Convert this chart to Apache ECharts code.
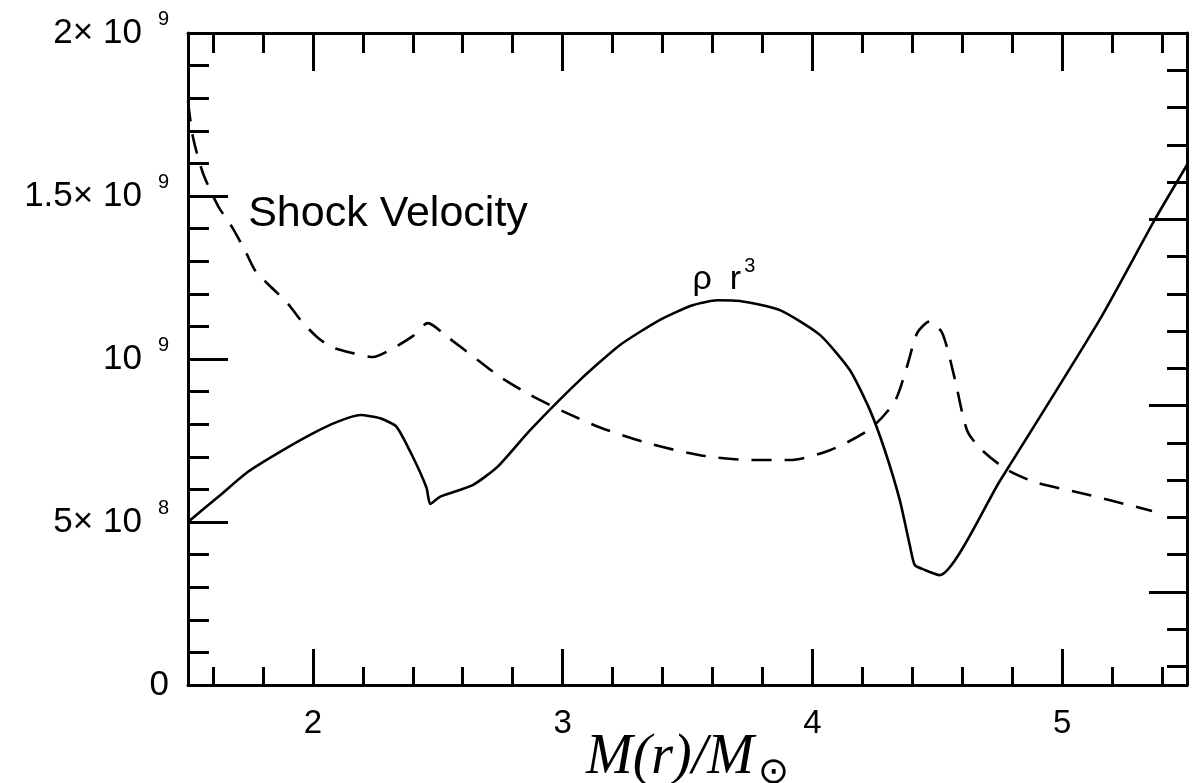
<!DOCTYPE html>
<html>
<head>
<meta charset="utf-8">
<script src="https://cdn.jsdelivr.net/npm/echarts@6/dist/echarts.min.js"></script>
<style>
  html, body { margin: 0; padding: 0; background: #fff; }
  #chart { width: 1204px; height: 783px; }
</style>
</head>
<body>
<div id="chart"></div>
<script>
// Shock velocity (cm/s) against enclosed mass M(r)/M_sun
const shockMass = [1.50, 1.52, 1.56, 1.62, 1.68, 1.73, 1.77, 1.82, 1.90, 1.95, 2.02, 2.08, 2.16, 2.24,
  2.31, 2.40, 2.46, 2.54, 2.66, 2.75, 2.87, 3.00, 3.15, 3.35, 3.55, 3.75, 3.91, 4.07, 4.23, 4.33,
  4.38, 4.42, 4.47, 4.52, 4.57, 4.62, 4.68, 4.78, 4.90, 5.07, 5.20, 5.36];
const shockVelocity = [1.79e9, 1.68e9, 1.57e9, 1.47e9, 1.40e9, 1.33e9, 1.27e9, 1.23e9, 1.17e9, 1.12e9,
  1.065e9, 1.035e9, 1.018e9, 1.006e9, 1.028e9, 1.07e9, 1.11e9, 1.067e9, 0.997e9, 0.945e9, 0.89e9,
  0.84e9, 0.79e9, 0.74e9, 0.705e9, 0.69e9, 0.69e9, 0.72e9, 0.785e9, 0.87e9, 0.98e9, 1.08e9, 1.115e9,
  1.08e9, 0.94e9, 0.78e9, 0.72e9, 0.66e9, 0.62e9, 0.59e9, 0.565e9, 0.534e9];

// rho r^3 profile on the same mass coordinate
const rhoMass = [1.50, 1.63, 1.74, 1.87, 2.00, 2.10, 2.19, 2.27, 2.335, 2.40, 2.455, 2.47, 2.51, 2.64,
  2.74, 2.87, 3.07, 3.23, 3.39, 3.52, 3.62, 3.71, 3.87, 4.03, 4.15, 4.23, 4.29, 4.35, 4.39, 4.41,
  4.45, 4.51, 4.75, 5.15, 5.37, 5.50];
const rhoR3 = [5.0e8, 5.83e8, 6.54e8, 7.16e8, 7.72e8, 8.08e8, 8.28e8, 8.18e8, 7.92e8, 7.0e8, 6.05e8,
  5.55e8, 5.78e8, 6.13e8, 6.70e8, 7.82e8, 9.36e8, 10.43e8, 11.2e8, 11.65e8, 11.8e8, 11.78e8, 11.5e8,
  10.74e8, 9.66e8, 8.44e8, 7.2e8, 5.67e8, 4.29e8, 3.68e8, 3.53e8, 3.37e8, 6.25e8, 11.2e8, 14.26e8, 15.95e8];

// axis ticks
const xMajorTicks = [2, 3, 4, 5];
const xMinorTicks = [1.6, 1.8, 2.2, 2.4, 2.6, 2.8, 3.2, 3.4, 3.6, 3.8, 4.2, 4.4, 4.6, 4.8, 5.2, 5.4];
const yTickValues = [0, 5e8, 1e9, 1.5e9, 2e9];
const yTickMantissa = ['0', '5\u00d7 10', '10', '1.5\u00d7 10', '2\u00d7 10'];
const yTickExponent = ['', '8', '9', '9', '9'];
const rightMajorTicks = [1, 2, 3];
const rightMinorTicks = [0.6, 0.8, 1.2, 1.4, 1.6, 1.8, 2.2, 2.4, 2.6, 2.8, 3.2, 3.4, 3.6, 3.8];

const FONT = '"Liberation Sans", Arial, Helvetica, sans-serif';
const INK = '#000';

const pairs = (xs, ys) => xs.map((x, i) => [x, ys[i]]);

const frameLine = { show: true, onZero: false, lineStyle: { color: INK, width: 3 } };
const noLine = { show: false };
const tick = (values, len) => ({
  show: true, inside: true, length: len, customValues: values,
  lineStyle: { color: INK, width: 3 }
});

const chart = echarts.init(document.getElementById('chart'), null, { renderer: 'canvas' });

const option = {
  animation: false,
  backgroundColor: '#fff',
  grid: { left: 188, right: 17, top: 33, bottom: 98, containLabel: false, outerBoundsMode: 'none' },
  xAxis: [
    {
      type: 'value', position: 'bottom', min: 1.5, max: 5.5,
      axisLine: frameLine, axisTick: tick(xMajorTicks, 36), splitLine: { show: false },
      axisLabel: {
        customValues: xMajorTicks, margin: 22, color: INK,
        fontFamily: FONT, fontSize: 33
      },
      name: '{i|M(r)/M}{o|\u2299}',
      nameLocation: 'middle', nameGap: 40, nameMoveOverlap: false,
      nameTextStyle: {
        rich: {
          i: { fontFamily: '"Liberation Serif", "DejaVu Serif", serif', fontStyle: 'italic', fontSize: 56, color: INK },
          o: { fontFamily: '"DejaVu Sans", sans-serif', fontSize: 37, color: INK, padding: [30, 0, 0, 4] }
        }
      }
    },
    {
      type: 'value', position: 'bottom', min: 1.5, max: 5.5,
      axisLine: noLine, axisTick: tick(xMinorTicks, 18), axisLabel: { show: false }, splitLine: { show: false }
    },
    {
      type: 'value', position: 'top', min: 1.5, max: 5.5,
      axisLine: frameLine, axisTick: tick(xMajorTicks, 38), axisLabel: { show: false }, splitLine: { show: false }
    },
    {
      type: 'value', position: 'top', min: 1.5, max: 5.5,
      axisLine: noLine, axisTick: tick(xMinorTicks, 20), axisLabel: { show: false }, splitLine: { show: false }
    }
  ],
  yAxis: [
    {
      type: 'value', position: 'left', min: 0, max: 2e9, interval: 5e8,
      axisLine: frameLine,
      axisTick: { show: true, inside: true, length: 40, lineStyle: { color: INK, width: 3 } },
      minorTick: { show: true, splitNumber: 5, length: 21, lineStyle: { color: INK, width: 3 } },
      splitLine: { show: false }, minorSplitLine: { show: false },
      axisLabel: {
        margin: 19, color: INK,
        formatter: function (v) {
          const i = yTickValues.indexOf(v);
          if (i < 0) return '';
          if (!yTickExponent[i]) return '{m|' + yTickMantissa[i] + '}';
          return '{m|' + yTickMantissa[i] + '}{s|' + yTickExponent[i] + '}';
        },
        rich: {
          m: { fontFamily: FONT, fontSize: 35, color: INK },
          s: { fontFamily: FONT, fontSize: 20, color: INK, padding: [0, 0, 28, 16] }
        }
      }
    },
    {
      type: 'value', position: 'right', min: 0.5, max: 4,
      axisLine: frameLine, axisTick: tick(rightMajorTicks, 38), axisLabel: { show: false }, splitLine: { show: false }
    },
    {
      type: 'value', position: 'right', min: 0.5, max: 4,
      axisLine: noLine, axisTick: tick(rightMinorTicks, 20), axisLabel: { show: false }, splitLine: { show: false }
    }
  ],
  series: [
    {
      name: 'Shock Velocity', type: 'line', xAxisIndex: 0, yAxisIndex: 0,
      data: pairs(shockMass, shockVelocity),
      showSymbol: false, smooth: 0.25,
      lineStyle: { color: INK, width: 2.6, type: [20, 13] }
    },
    {
      name: 'rho r3', type: 'line', xAxisIndex: 0, yAxisIndex: 0,
      data: pairs(rhoMass, rhoR3),
      showSymbol: false, smooth: 0.2,
      lineStyle: { color: INK, width: 2.6 }
    }
  ]
};

chart.setOption(option);

// curve annotations, anchored in data coordinates
const at = (x, y) => chart.convertToPixel({ xAxisIndex: 0, yAxisIndex: 0 }, [x, y]);
const shockPos = at(1.741, 1.445e9);
const rhoPos = at(3.52, 1.245e9);
chart.setOption({
  graphic: [
    {
      type: 'text', x: shockPos[0], y: shockPos[1],
      style: {
        text: 'Shock Velocity', fill: INK, font: '43px ' + FONT,
        align: 'left', verticalAlign: 'middle'
      }
    },
    {
      type: 'text', x: rhoPos[0], y: rhoPos[1],
      style: {
        text: '{a|\u03c1}{b|r}{c|3}', align: 'left', verticalAlign: 'middle',
        rich: {
          a: { fontFamily: FONT, fontSize: 34, fill: INK, padding: [0, 18, 0, 0] },
          b: { fontFamily: FONT, fontSize: 34, fill: INK },
          c: { fontFamily: FONT, fontSize: 20, fill: INK, padding: [0, 0, 26, 3] }
        }
      }
    }
  ]
});
</script>
</body>
</html>
